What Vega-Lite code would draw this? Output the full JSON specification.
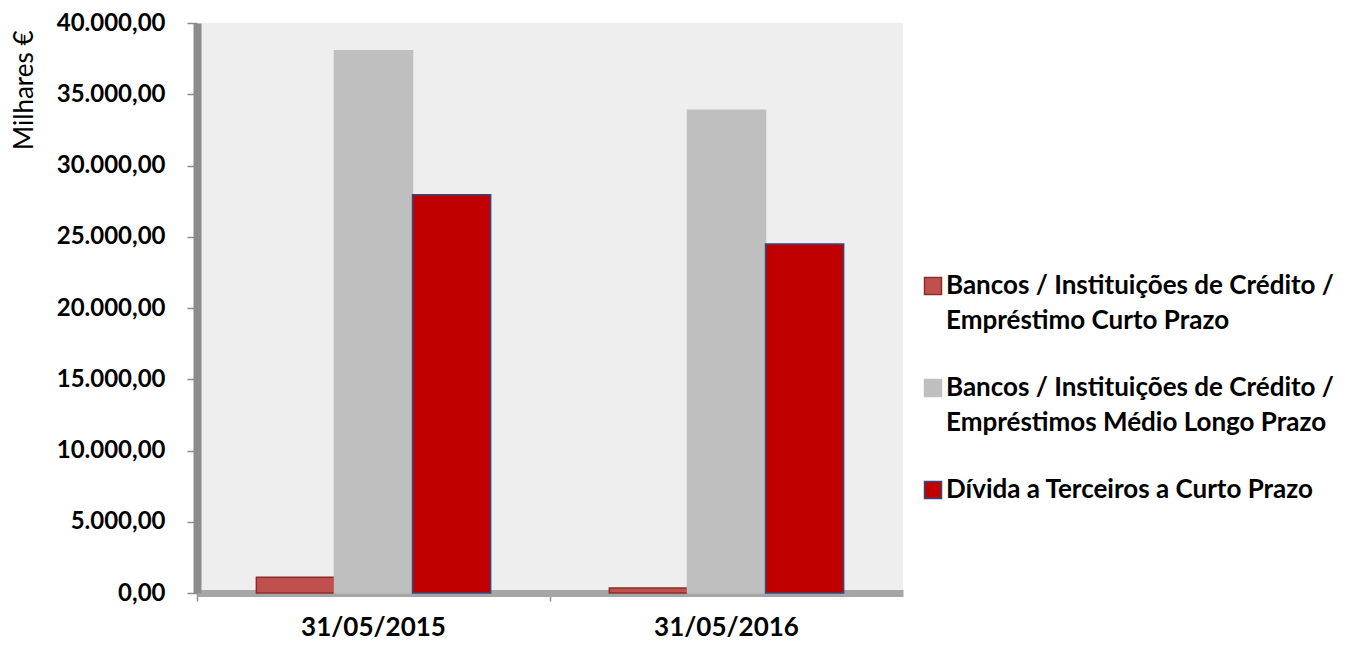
{
  "$schema": "https://vega.github.io/schema/vega-lite/v6.json",
  "width": 706,
  "height": 570,
  "autosize": "none",
  "padding": {"left": 197, "top": 23, "right": 452, "bottom": 53},
  "background": "white",
  "config": {
    "locale": {"number": {"decimal": ",", "thousands": ".", "grouping": [3], "currency": ["", " €"]}},
    "view": {"fill": "#eeeeee", "stroke": null},
    "font": "Lato"
  },
  "data": {
    "values": [
      {"data": "31/05/2015", "serie": "Bancos / Instituições de Crédito / Empréstimo Curto Prazo", "valor": 1100},
      {"data": "31/05/2015", "serie": "Bancos / Instituições de Crédito / Empréstimos Médio Longo Prazo", "valor": 38050},
      {"data": "31/05/2015", "serie": "Dívida a Terceiros a Curto Prazo", "valor": 27950},
      {"data": "31/05/2016", "serie": "Bancos / Instituições de Crédito / Empréstimo Curto Prazo", "valor": 350},
      {"data": "31/05/2016", "serie": "Bancos / Instituições de Crédito / Empréstimos Médio Longo Prazo", "valor": 33880},
      {"data": "31/05/2016", "serie": "Dívida a Terceiros a Curto Prazo", "valor": 24500}
    ]
  },
  "mark": {"type": "bar", "strokeWidth": 1.5},
  "encoding": {
    "x": {
      "field": "data", "type": "nominal", "sort": null,
      "scale": {"paddingInner": 0, "paddingOuter": 0},
      "axis": {
        "title": null, "labelAngle": 0, "bandPosition": 0,
        "labelFont": "Lato", "labelFontSize": 26, "labelFontWeight": "bold", "labelColor": "black",
        "labelPadding": 13, "tickSize": 8, "tickColor": "#8c8c8c", "tickWidth": 1.5,
        "domainColor": "#a6a6a6", "domainWidth": 7
      }
    },
    "xOffset": {
      "field": "serie", "type": "nominal", "sort": null,
      "scale": {"paddingInner": 0, "paddingOuter": 0.76}
    },
    "y": {
      "field": "valor", "type": "quantitative",
      "scale": {"domain": [0, 40000], "nice": false},
      "axis": {
        "values": [0, 5000, 10000, 15000, 20000, 25000, 30000, 35000, 40000],
        "format": ",.2f", "grid": false,
        "labelFont": "Lato", "labelFontSize": 24, "labelFontWeight": "bold", "labelColor": "black",
        "labelPadding": 22, "tickSize": 10, "tickColor": "#8c8c8c", "tickWidth": 1.5,
        "domainColor": "#8c8c8c", "domainWidth": 8,
        "title": "Milhares €", "titleFont": "Lato", "titleFontSize": 26, "titleFontWeight": "normal", "titleColor": "black",
        "titleX": -173, "titleY": 7, "titleAlign": "right", "titleBaseline": "middle", "titleAngle": -90
      }
    },
    "fill": {
      "field": "serie", "type": "nominal",
      "scale": {
        "domain": ["Bancos / Instituições de Crédito / Empréstimo Curto Prazo", "Bancos / Instituições de Crédito / Empréstimos Médio Longo Prazo", "Dívida a Terceiros a Curto Prazo"],
        "range": ["#c0504d", "#bfbfbf", "#c00000"]
      },
      "legend": {
        "title": null, "orient": "none", "legendX": 723, "legendY": 250,
        "symbolType": "square", "symbolSize": 289, "symbolStrokeWidth": 1.5,
        "labelFont": "Lato", "labelFontSize": 26, "labelFontWeight": "bold", "labelColor": "black",
        "labelLimit": 500, "labelOffset": 0, "rowPadding": 41,
        "labelExpr": "indexof(datum.label, '/ Emp') > 0 ? [slice(datum.label, 0, indexof(datum.label, '/ Emp') + 1), slice(datum.label, indexof(datum.label, '/ Emp') + 2)] : datum.label",
        "encode": {"labels": {"update": {"lineHeight": {"value": 35}}}}
      }
    },
    "stroke": {
      "field": "serie", "type": "nominal",
      "scale": {
        "domain": ["Bancos / Instituições de Crédito / Empréstimo Curto Prazo", "Bancos / Instituições de Crédito / Empréstimos Médio Longo Prazo", "Dívida a Terceiros a Curto Prazo"],
        "range": ["#8c2d2b", "#bfbfbf", "#2f4b7c"]
      },
      "legend": {
        "title": null, "orient": "none", "legendX": 723, "legendY": 250,
        "symbolType": "square", "symbolSize": 289, "symbolStrokeWidth": 1.5,
        "labelFont": "Lato", "labelFontSize": 26, "labelFontWeight": "bold", "labelColor": "black",
        "labelLimit": 500, "labelOffset": 0, "rowPadding": 41,
        "labelExpr": "indexof(datum.label, '/ Emp') > 0 ? [slice(datum.label, 0, indexof(datum.label, '/ Emp') + 1), slice(datum.label, indexof(datum.label, '/ Emp') + 2)] : datum.label",
        "encode": {"labels": {"update": {"lineHeight": {"value": 35}}}}
      }
    }
  }
}
